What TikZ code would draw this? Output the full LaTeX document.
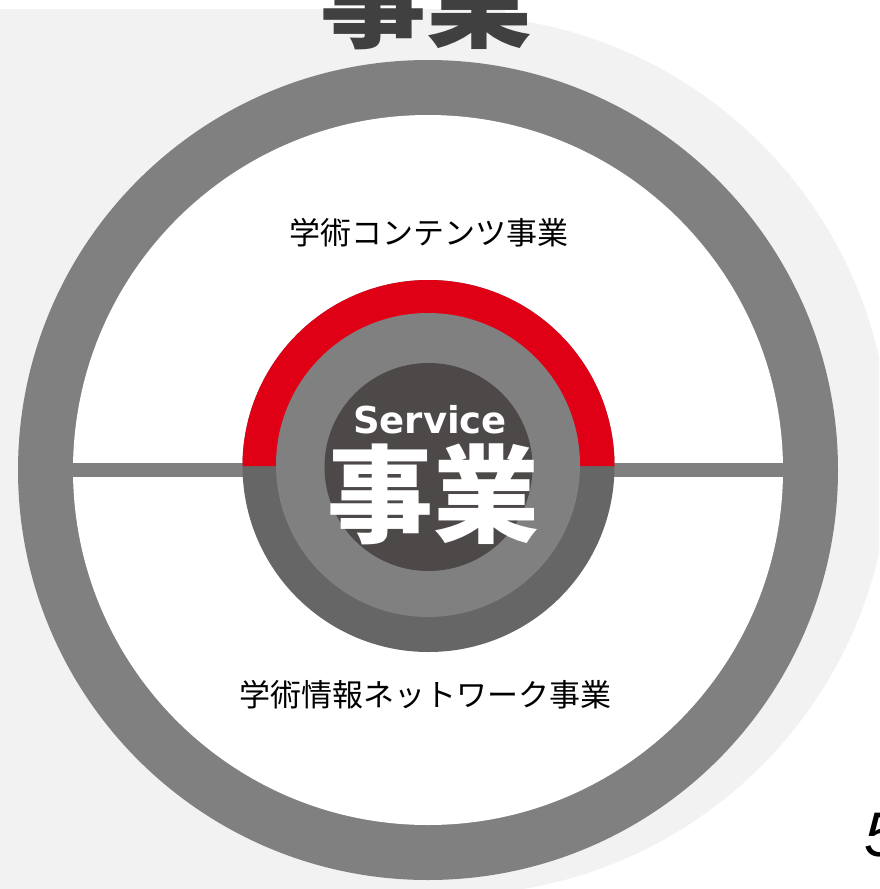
\documentclass[tikz,border=0pt]{standalone}
\usepackage{fontspec}
\newfontfamily\jpfont{Noto Sans CJK JP}
\newfontfamily\latinbold{DejaVu Sans}
\newfontfamily\pagefont{Liberation Sans}
\definecolor{lightbg}{HTML}{F2F2F2}
\definecolor{ringgray}{HTML}{808080}
\definecolor{lowgray}{HTML}{666666}
\definecolor{coregray}{HTML}{4C4948}
\definecolor{accentred}{HTML}{E00016}
\definecolor{titlegray}{HTML}{404040}
\tikzset{
  txt/.style={inner sep=0pt, outer sep=0pt},
  bigchar/.style={txt, font=\jpfont\bfseries\fontsize{106}{106}\selectfont},
  label/.style={txt, font=\jpfont\fontsize{31}{31}\selectfont, text=black},
}
\begin{document}
\begin{tikzpicture}[x=1pt,y=-1pt]
\useasboundingbox (0,0) rectangle (879,889);
\clip (0,0) rectangle (879,889);
\fill[white] (0,0) rectangle (879,889);
% light background
\fill[lightbg] (0,9) rectangle (505,889);
\fill[lightbg] (450,455) circle (440);
% outer ring
\fill[ringgray] (428,470) circle (410);
\fill[white] (428,470) circle (355);
% horizontal bar
\fill[ringgray] (72,463) rectangle (785,477);
% core
\fill[lowgray] (428.5,466) circle (186);
\fill[accentred] (242.5,466) arc[start angle=180, end angle=360, radius=186] -- cycle;
\fill[ringgray] (428,465) circle (152);
\fill[coregray] (428.5,467) circle (104);
% texts
\node[bigchar, text=titlegray] (title) at (426,-1) {事業};
\node[txt, text=white, font=\latinbold\bfseries\fontsize{37}{37}\selectfont] (service) at (430,420) {Service};
\node[bigchar, text=white] (core) at (433,494) {事業};
\node[label] (upper) at (429,233) {学術コンテンツ事業};
\node[label] (lower) at (425.5,695) {学術情報ネットワーク事業};
\node[txt, anchor=base west, font=\pagefont\itshape\fontsize{63}{63}\selectfont, text=black] (page) at (864,856) {5};
\end{tikzpicture}
\end{document}
